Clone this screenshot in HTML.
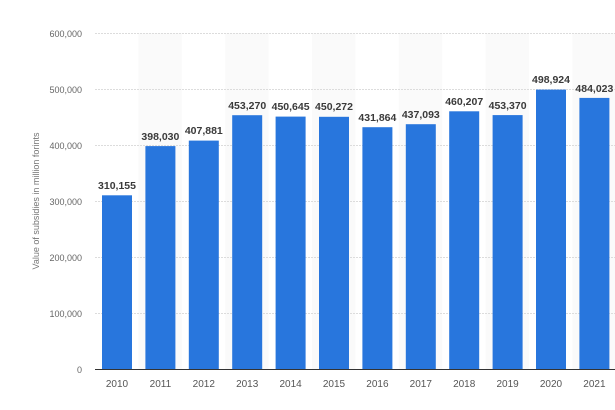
<!DOCTYPE html>
<html><head><meta charset="utf-8"><style>
html,body{margin:0;padding:0;background:#fff;}
svg{display:block;font-family:"Liberation Sans",sans-serif;}
</style></head><body>
<svg width="615" height="410" viewBox="0 0 615 410" xmlns="http://www.w3.org/2000/svg">
<g fill="#fafafa">
<rect x="138.4" y="33" width="43.4" height="336"/>
<rect x="225.2" y="33" width="43.4" height="336"/>
<rect x="312" y="33" width="43.4" height="336"/>
<rect x="398.8" y="33" width="43.4" height="336"/>
<rect x="485.6" y="33" width="43.4" height="336"/>
<rect x="572.4" y="33" width="43.4" height="336"/>
</g>
<g stroke="#dcdcdc" stroke-width="1" stroke-dasharray="2,1">
<line x1="95" x2="615" y1="33.5" y2="33.5"/>
<line x1="95" x2="615" y1="89.5" y2="89.5"/>
<line x1="95" x2="615" y1="145.5" y2="145.5"/>
<line x1="95" x2="615" y1="201.5" y2="201.5"/>
<line x1="95" x2="615" y1="257.5" y2="257.5"/>
<line x1="95" x2="615" y1="313.5" y2="313.5"/>
</g>
<g fill="#666" font-size="9" text-anchor="end">
<text x="82" y="37">600,000</text>
<text x="82" y="93">500,000</text>
<text x="82" y="149">400,000</text>
<text x="82" y="205">300,000</text>
<text x="82" y="261">200,000</text>
<text x="82" y="317">100,000</text>
<text x="82" y="373">0</text>
</g>
<text transform="translate(39,201) rotate(-90)" fill="#777" font-size="9" text-anchor="middle">Value of subsidies in million forints</text>
<g fill="#2876dd">
<rect x="102" y="195.3" width="30" height="173.7"/>
<rect x="145.4" y="146.1" width="30" height="222.9"/>
<rect x="188.8" y="140.6" width="30" height="228.4"/>
<rect x="232.2" y="115.2" width="30" height="253.8"/>
<rect x="275.6" y="116.6" width="30" height="252.4"/>
<rect x="319" y="116.8" width="30" height="252.2"/>
<rect x="362.4" y="127.2" width="30" height="241.8"/>
<rect x="405.8" y="124.2" width="30" height="244.8"/>
<rect x="449.2" y="111.3" width="30" height="257.7"/>
<rect x="492.6" y="115.1" width="30" height="253.9"/>
<rect x="536" y="89.6" width="30" height="279.4"/>
<rect x="579.4" y="97.9" width="30" height="271.1"/>
</g>
<line x1="95" x2="615" y1="369.5" y2="369.5" stroke="#333" stroke-width="1"/>
<g fill="#3a3a3a" font-size="10.5" font-weight="bold" text-anchor="middle">
<text x="117" y="189">310,155</text>
<text x="160.4" y="140">398,030</text>
<text x="203.8" y="134">407,881</text>
<text x="247.2" y="109">453,270</text>
<text x="290.6" y="110">450,645</text>
<text x="334" y="110">450,272</text>
<text x="377.4" y="121">431,864</text>
<text x="420.8" y="118">437,093</text>
<text x="464.2" y="105">460,207</text>
<text x="507.6" y="109">453,370</text>
<text x="551" y="83">498,924</text>
<text x="594.4" y="92">484,023</text>
</g>
<g fill="#555" font-size="10" text-anchor="middle">
<text x="117" y="387">2010</text>
<text x="160.4" y="387">2011</text>
<text x="203.8" y="387">2012</text>
<text x="247.2" y="387">2013</text>
<text x="290.6" y="387">2014</text>
<text x="334" y="387">2015</text>
<text x="377.4" y="387">2016</text>
<text x="420.8" y="387">2017</text>
<text x="464.2" y="387">2018</text>
<text x="507.6" y="387">2019</text>
<text x="551" y="387">2020</text>
<text x="594.4" y="387">2021</text>
</g>
</svg>
</body></html>
